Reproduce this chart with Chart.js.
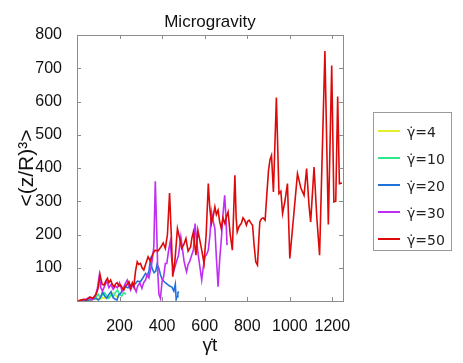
<!DOCTYPE html>
<html>
<head>
<meta charset="utf-8">
<script src="https://cdn.jsdelivr.net/npm/chart.js@4/dist/chart.umd.min.js"></script>
<style>
  html, body { margin: 0; padding: 0; background: #fff; }
  #wrap { width: 463px; height: 363px; position: relative; }
</style>
</head>
<body>
<div id="wrap"><canvas id="graphCanvas"></canvas></div>
<script>
// 系列ラベル
const seriesLabels = ["γ̇=4", "γ̇=10", "γ̇=20", "γ̇=30", "γ̇=50"];

// 目盛り
const xTicks = [0, 200, 400, 600, 800, 1000, 1200];
const yTicks = [0, 100, 200, 300, 400, 500, 600, 700, 800];

// γ̇=4
const tYellow = [0, 10, 20, 30, 40, 50, 60, 70, 80, 90, 100, 110, 120, 130, 140, 150, 160, 170, 180, 190, 200];
const vYellow = [0, 1, 2, 1, 3, 2, 4, 3, 6, 5, 8, 6, 10, 8, 12, 10, 15, 25, 18, 12, 15];

// γ̇=10
const tGreen = [0, 15, 30, 45, 60, 75, 90, 100, 110, 120, 130, 140, 150, 160, 170, 180, 190, 200, 210, 220, 230];
const vGreen = [0, 0, 2, 3, 5, 8, 12, 20, 10, 18, 25, 15, 8, 20, 12, 25, 33, 20, 15, 25, 20];

// γ̇=20
const tBlue = [0, 20, 40, 60, 75, 90, 100, 110, 120, 130, 140, 150, 160, 170, 180, 188, 195, 205, 215, 228,
  240, 252, 262, 275, 285, 298, 310, 322, 330, 338, 345, 353, 362, 370, 376, 384, 392, 400, 407, 415,
  425, 435, 446, 455, 462, 466, 470, 474, 479];
const vBlue = [0, 0, 2, 3, 5, 8, 3, 10, 28, 15, 8, 20, 28, 10, 5, 3, 18, 23, 35, 43,
  40, 48, 45, 53, 60, 58, 70, 83, 75, 90, 123, 98, 85, 90, 110, 100, 80, 65, 60, 55,
  50, 45, 42, 30, 50, 5, 13, 25, 28];

// γ̇=30
const tMagenta = [0, 20, 40, 55, 70, 85, 95, 105, 112, 120, 130, 140, 150, 160, 170, 180, 190, 200, 212, 225,
  236, 244, 252, 262, 270, 278, 285, 295, 305, 313, 322, 330, 338, 345, 353, 361, 368, 375, 380, 385,
  392, 400, 407, 415, 422, 430, 438, 446, 456, 466, 477, 488, 495, 503, 510, 515, 522, 530, 540, 547,
  555, 562, 570, 578, 586, 593, 601, 609, 617, 625, 632, 640, 648, 655, 663, 670, 679, 686, 694, 700, 705];
const vMagenta = [0, 2, 5, 10, 3, 15, 35, 78, 40, 30, 45, 60, 40, 50, 35, 45, 40, 55, 30, 50,
  63, 45, 33, 50, 40, 28, 45, 55, 38, 55, 63, 80, 70, 93, 120, 163, 360, 200, 80, 20,
  8, 60, 73, 113, 113, 150, 178, 120, 93, 115, 138, 193, 160, 120, 100, 88, 110, 120, 140, 153,
  233, 180, 138, 100, 63, 100, 133, 140, 153, 200, 268, 240, 218, 130, 43, 120, 193, 260, 318, 250, 168];

// γ̇=50
const tRed = [0, 15, 30, 45, 60, 75, 90, 100, 108, 118, 127, 135, 143, 150, 158, 166, 174, 182, 189, 197,
  205, 212, 220, 228, 236, 244, 252, 260, 267, 275, 283, 290, 298, 306, 314, 322, 334, 345, 355, 367,
  380, 395, 405, 415, 425, 435, 443, 450, 460, 472, 482, 492, 502, 512, 522, 534, 540, 547, 553, 559,
  568, 578, 587, 597, 607, 617, 624, 632, 640, 648, 655, 663, 670, 678, 686, 695, 703, 710, 720, 730,
  742, 748, 753, 762, 772, 780, 788, 796, 802, 809, 817, 825, 832, 840, 848, 854, 859, 867, 875, 884,
  892, 900, 907, 914, 923, 937, 949, 958, 966, 977, 989, 1000, 1018, 1036, 1052, 1067, 1079, 1090, 1098, 1106,
  1114, 1127, 1140, 1165, 1181, 1197, 1207, 1216, 1225, 1233, 1245];
const vRed = [0, 2, 5, 3, 12, 8, 20, 40, 80, 50, 48, 60, 68, 55, 63, 50, 43, 52, 55, 45,
  48, 40, 33, 45, 50, 58, 40, 55, 43, 90, 118, 110, 113, 100, 93, 110, 133, 120, 140, 153,
  150, 163, 175, 158, 200, 325, 200, 73, 120, 218, 190, 158, 170, 188, 150, 163, 190, 208, 170, 138,
  213, 180, 150, 113, 200, 353, 280, 233, 255, 283, 260, 273, 240, 218, 250, 233, 255, 268, 200, 153,
  378, 250, 208, 225, 233, 250, 243, 228, 240, 243, 235, 228, 170, 118, 108, 180, 238, 248, 250, 243,
  320, 393, 425, 438, 328, 612, 323, 330, 263, 300, 353, 128, 255, 383, 340, 318, 398, 290, 238, 320,
  403, 250, 138, 752, 230, 708, 298, 300, 615, 353, 355];

const lineColors = ["#e4ee2a", "#2ee88c", "#1f72dc", "#c02ef2", "#dd0a0a"];

const T_MAX = 1250;
const Y_MAX = 800;
const FONT = "'Liberation Sans', Arial, sans-serif";

const toPoints = (ts, vs) => ts.map((t, i) => ({ x: t, y: vs[i] }));

/**
 * 枠と内向きの目盛り線を描く。
 */
const frameTicks = {
  id: "frameTicks",
  afterDraw(chart) {
    const { ctx, chartArea: a, scales } = chart;
    const len = 4;
    ctx.save();
    ctx.strokeStyle = "#8c8c8c";
    ctx.lineWidth = 1;
    ctx.beginPath();
    scales.x.ticks.forEach((tk) => {
      const px = Math.round(scales.x.getPixelForValue(tk.value)) + 0.5;
      ctx.moveTo(px, a.bottom); ctx.lineTo(px, a.bottom - len);
      ctx.moveTo(px, a.top); ctx.lineTo(px, a.top + len);
    });
    scales.y.ticks.forEach((tk) => {
      const py = Math.round(scales.y.getPixelForValue(tk.value)) + 0.5;
      ctx.moveTo(a.left, py); ctx.lineTo(a.left + len, py);
      ctx.moveTo(a.right, py); ctx.lineTo(a.right - len, py);
    });
    ctx.stroke();
    ctx.strokeRect(Math.round(a.left) + 0.5, Math.round(a.top) + 0.5,
      Math.round(a.right - a.left), Math.round(a.bottom - a.top));
    // タイトル
    ctx.fillStyle = "#111";
    ctx.font = "17px " + FONT;
    ctx.textAlign = "center";
    ctx.textBaseline = "middle";
    ctx.fillText("Microgravity", (a.left + a.right) / 2, 22);
    ctx.restore();
  },
};

/**
 * 枠付きの凡例を右側に描く。
 */
const boxLegend = {
  id: "boxLegend",
  afterDraw(chart) {
    const { ctx } = chart;
    const box = { x: 373.5, y: 112.5, w: 78, h: 138 };
    ctx.save();
    ctx.strokeStyle = "#9a9a9a";
    ctx.lineWidth = 1;
    ctx.strokeRect(box.x, box.y, box.w, box.h);
    ctx.font = "14px 'DejaVu Sans', sans-serif";
    ctx.textAlign = "left";
    ctx.textBaseline = "middle";
    chart.data.datasets.forEach((ds, i) => {
      const y = 131 + i * 27;
      ctx.strokeStyle = ds.borderColor;
      ctx.lineWidth = 2;
      ctx.beginPath();
      ctx.moveTo(378, y);
      ctx.lineTo(400, y);
      ctx.stroke();
      ctx.fillStyle = "#222";
      ctx.fillText(ds.label, 407, y + 2);
    });
    ctx.restore();
  },
};

const drawGraph = () => {
  const ctx = document.getElementById("graphCanvas").getContext("2d");
  const series = [
    [tYellow, vYellow],
    [tGreen, vGreen],
    [tBlue, vBlue],
    [tMagenta, vMagenta],
    [tRed, vRed],
  ];
  const data = {
    datasets: series.map(([ts, vs], i) => ({
      label: seriesLabels[i],
      data: toPoints(ts, vs),
      showLine: true,
      pointRadius: 0,
      borderWidth: 1.6,
      borderColor: lineColors[i],
      backgroundColor: lineColors[i],
      order: series.length - 1 - i,
    })),
  };
  const options = {
    responsive: false,
    animation: false,
    layout: { padding: { top: 35, right: 120, bottom: 6, left: 0 } },
    plugins: {
      legend: { display: false },
      title: { display: false },
      tooltip: { enabled: false },
    },
    scales: {
      x: {
        type: "linear",
        min: 0,
        max: T_MAX,
        grid: { display: false },
        border: { display: false },
        afterBuildTicks: (s) => { s.ticks = xTicks.map((v) => ({ value: v })); },
        afterFit: (s) => { s.height = 56; },
        ticks: {
          padding: 8,
          autoSkip: false,
          maxRotation: 0,
          color: "#111",
          font: { family: FONT, size: 16 },
          callback: (v) => (v === 0 ? "" : v),
        },
        title: {
          display: true,
          text: "γ̇t",
          color: "#111",
          padding: { top: 0, bottom: 0 },
          font: { family: FONT, size: 19 },
        },
      },
      y: {
        type: "linear",
        min: 0,
        max: Y_MAX,
        grid: { display: false },
        border: { display: false },
        afterBuildTicks: (s) => { s.ticks = yTicks.map((v) => ({ value: v })); },
        afterFit: (s) => { s.width = 77; },
        ticks: {
          padding: 7,
          color: "#111",
          font: { family: FONT, size: 16 },
          callback: (v) => (v === 0 ? "" : v),
        },
        title: {
          display: true,
          text: "<(z/R)³>",
          color: "#111",
          padding: { top: 15, bottom: 0 },
          font: { family: FONT, size: 21 },
        },
      },
    },
  };
  new Chart(ctx, {
    type: "scatter",
    data: data,
    options: options,
    plugins: [frameTicks, boxLegend],
  });
};

const cv = document.getElementById("graphCanvas");
cv.width = 463;
cv.height = 363;
drawGraph();
</script>
</body>
</html>
